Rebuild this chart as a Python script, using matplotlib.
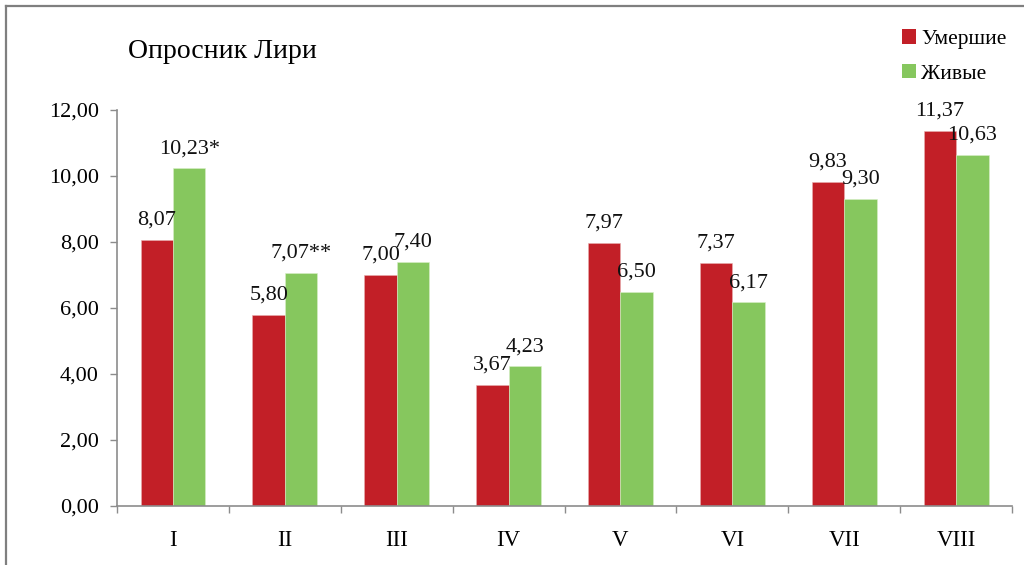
import numpy as np
import matplotlib
matplotlib.use('Agg')
import matplotlib.pyplot as plt
from matplotlib.patches import Patch
from matplotlib.lines import Line2D
from matplotlib.ticker import FuncFormatter, FixedLocator

plt.rcParams['font.family'] = ['Liberation Serif', 'DejaVu Serif']

categories = ['I', 'II', 'III', 'IV', 'V', 'VI', 'VII', 'VIII']
dead = [8.07, 5.80, 7.00, 3.67, 7.97, 7.37, 9.83, 11.37]
alive = [10.23, 7.07, 7.40, 4.23, 6.50, 6.17, 9.30, 10.63]
alive_marks = ['*', '**', '', '', '', '', '', '']
series_names = ['Умершие', 'Живые']

red = '#C21F27'
green = '#86C75E'
axis_gray = '#8C8C8C'


def comma(v, pos=None):
    return f'{v:.2f}'.replace('.', ',')


fig = plt.figure(figsize=(10.24, 5.65), dpi=100)
ax = fig.add_axes([0.1143, 0.1044, 0.874, 0.7009])

x = np.arange(len(categories))
w = 0.29
ax.bar(x - w / 2, dead, w, color=red, edgecolor='#E8B0B0', linewidth=0.4)
ax.bar(x + w / 2, alive, w, color=green, edgecolor='#D8F0C8', linewidth=0.4)

# data labels above bars
for xi, v in zip(x - w / 2, dead):
    ax.annotate(comma(v), (xi, v), xytext=(0, 11), textcoords='offset points',
                ha='center', va='baseline', fontsize=16, color='#111111')
for xi, v, m in zip(x + w / 2, alive, alive_marks):
    ax.annotate(comma(v) + m, (xi, v), xytext=(0, 11), textcoords='offset points',
                ha='center', va='baseline', fontsize=16, color='#111111')

ax.set_xlim(-0.5, len(categories) - 0.5)
ax.set_ylim(0, 12)
ax.set_yticks(np.arange(0, 13, 2))
ax.yaxis.set_major_formatter(FuncFormatter(comma))

ax.set_xticks(x)
ax.set_xticklabels(categories)
ax.xaxis.set_minor_locator(FixedLocator(np.arange(-0.5, len(categories), 1.0)))
ax.tick_params(axis='x', which='major', length=0, pad=17, labelsize=16.5)
ax.tick_params(axis='x', which='minor', length=5, width=1.0, color=axis_gray, direction='out')
ax.tick_params(axis='y', length=5, width=1.0, color=axis_gray, pad=8, labelsize=16)

for s in ['top', 'right']:
    ax.spines[s].set_visible(False)
for s in ['left', 'bottom']:
    ax.spines[s].set_color(axis_gray)
    ax.spines[s].set_linewidth(1.2)

fig.text(0.125, 0.908, 'Опросник Лири', fontsize=20, va='center', ha='left')

handles = [Patch(facecolor=red), Patch(facecolor=green)]
fig.legend(handles, series_names, loc='upper left', bbox_to_anchor=(0.866, 0.975),
           frameon=False, fontsize=15.5, handlelength=0.65, handleheight=0.65,
           handletextpad=0.25, labelspacing=0.7, borderpad=0.2)

# outer frame (left and top edges)
fig.add_artist(Line2D([0.006, 0.006], [0.0, 0.99], transform=fig.transFigure,
                      color='#7F7F7F', linewidth=1.6))
fig.add_artist(Line2D([0.006, 1.0], [0.99, 0.99], transform=fig.transFigure,
                      color='#7F7F7F', linewidth=1.6))

fig.savefig('out.png', dpi=100)
